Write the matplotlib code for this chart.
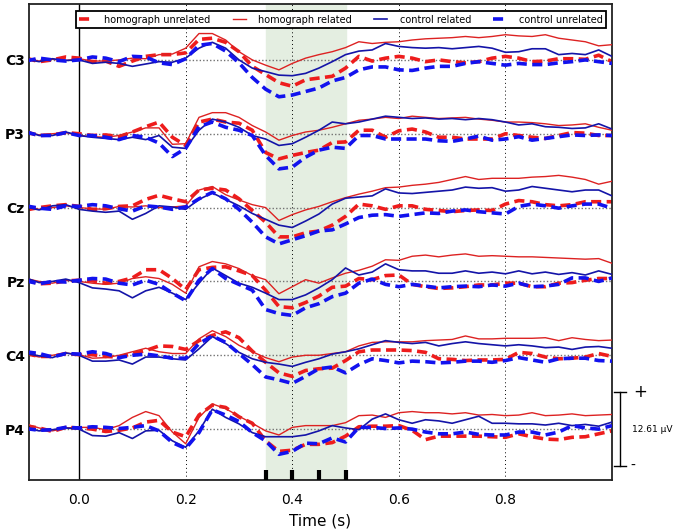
import numpy as np
import matplotlib
matplotlib.use('Agg')
import matplotlib.pyplot as plt
import matplotlib.transforms as mtransforms

# time axis (s), one sample every 25 ms
times = np.round(np.arange(-0.1, 1.0001, 0.025), 3)

channels = ['C3', 'P3', 'Cz', 'Pz', 'C4', 'P4']
conditions = ['homograph unrelated', 'homograph related', 'control related', 'control unrelated']
scale_uv = 12.61

# amplitudes in microvolts
c3_hu = [0.3,-0.3,0.0,0.5,0.3, -0.3,-0.2,-1.1,-0.2,0.6, 0.9,0.9,1.2,3.5,3.7, 3.0,1.4,-1.1,-2.5,-3.9, -4.5,-3.4,-3.1,-2.8,-1.4, 0.6,-0.2,0.3,0.6,0.3, -0.3,0.0,-0.3,-0.5,-0.3, 0.3,0.6,0.3,-0.3,-0.2, 0.2,0.2,0.1,0.8,-0.3]
c3_hr = [0.2,-0.2,0.1,-0.1,0.2, -0.2,-0.2,0.0,0.3,0.2, 0.9,1.0,2.0,4.5,4.5, 3.4,1.4,0.0,-0.9,-1.7, -0.6,0.3,0.9,1.4,2.1, 3.1,2.8,3.0,3.1,3.4, 3.6,3.7,3.8,4.0,3.8, 4.0,4.3,4.1,4.0,4.3, 3.7,3.4,3.1,2.4,2.6]
c3_cr = [0.1,-0.3,0.2,-0.1,0.0, -0.6,-0.4,-0.6,-1.1,-0.7, -0.3,-0.4,0.3,2.0,3.0, 2.0,0.0,-1.4,-2.0,-2.6, -2.7,-2.3,-1.4,-0.3,0.9, 1.5,1.7,2.8,2.3,2.1, 2.0,2.1,1.9,2.1,2.3, 2.0,1.3,1.4,1.9,1.9, 0.9,1.1,0.9,1.7,0.6]
c3_cu = [-0.2,0.3,0.0,-0.2,0.0, 0.5,0.3,-0.3,0.6,0.5, -0.5,-0.8,0.2,2.5,2.8, 1.5,-0.5,-3.0,-5.0,-6.3, -6.0,-5.4,-4.8,-3.6,-3.0, -1.7,-1.2,-1.2,-1.7,-1.8, -1.4,-1.1,-1.1,-0.6,-0.3, -0.6,-0.9,-0.6,-0.8,-0.8, -0.5,-0.3,0.0,-0.3,-0.6]

p3_hu = [0.3,-0.3,-0.2,0.2,0.0, -0.3,-0.2,-0.5,0.3,1.2, 2.0,-0.6,-2.0,2.0,2.5, 2.0,1.8,0.6,-3.2,-4.3, -3.7,-3.2,-2.8,-1.5,-1.4, 0.6,0.6,-0.6,0.5,0.8, 0.3,-0.6,-0.6,-0.9,-0.9, -0.9,0.0,-0.3,-0.6,-0.8, -0.3,0.2,0.1,-0.3,-0.3]
p3_hr = [0.3,-0.2,0.0,0.2,-0.3, -0.5,-0.6,-0.3,0.3,1.0, 1.0,-1.8,-1.7,2.8,3.6, 3.6,2.8,1.4,0.3,-1.1, -0.3,0.3,0.6,1.1,1.7, 2.3,2.5,2.8,2.6,3.0, 2.8,2.6,2.7,2.8,2.5, 2.3,2.0,2.0,1.9,1.7, 1.4,1.5,1.7,1.1,0.6]
p3_cr = [0.5,-0.3,-0.3,0.3,-0.3, -0.6,-0.8,-1.0,-0.6,-1.0, -0.3,-2.3,-2.5,0.6,2.5, 2.0,1.1,-0.3,-0.9,-2.0, -1.7,-0.6,0.6,2.0,1.7, 2.0,2.5,3.0,2.8,2.6, 2.7,2.5,2.6,2.4,2.6, 2.4,2.0,1.5,1.7,1.2, 1.1,0.9,1.0,1.7,0.8]
p3_cu = [0.3,-0.3,-0.3,0.2,-0.3, -0.3,-0.6,-1.0,-0.3,-0.6, -1.6,-3.9,-2.5,1.2,2.0, 1.1,0.6,-0.3,-3.7,-6.0, -5.7,-4.0,-2.8,-2.3,-2.5, -0.3,-0.3,-0.9,-0.9,-0.9, -0.9,-1.2,-1.3,-0.9,-0.4, -1.1,-0.9,-0.5,-1.1,-0.8, -0.5,-0.2,-0.3,-0.2,-0.3]

cz_hu = [-0.4,0.0,0.3,0.5,0.2, -0.3,-0.2,0.2,0.3,1.4, 2.1,1.5,1.0,3.0,3.3, 3.0,1.5,-0.5,-2.5,-5.0, -5.0,-4.3,-4.0,-3.0,-1.5, 0.6,0.3,-0.3,0.3,0.3, -0.3,-0.5,-0.7,-0.5,-0.4, -0.5,0.6,1.2,1.0,0.5, 0.3,0.5,1.0,1.0,1.0]
cz_hr = [0.2,-0.3,0.0,0.3,0.0, -0.2,-0.3,0.2,0.1,0.3, 0.0,0.1,0.3,3.0,3.6, 2.2,1.3,0.5,0.0,-2.2, -1.2,-0.4,0.2,1.0,1.7, 2.3,2.8,3.4,3.5,3.8, 4.0,4.3,4.8,5.3,4.8, 5.0,5.0,5.0,5.2,5.3, 5.5,5.2,4.8,4.0,4.5]
cz_cr = [0.1,-0.4,0.3,0.5,-0.3, -0.6,-0.8,-0.6,-2.0,-1.0, 0.3,0.1,-0.3,1.4,2.5, 1.4,0.3,-1.0,-2.0,-3.0, -3.4,-2.3,-1.1,0.6,1.6, 1.8,2.0,3.2,2.5,2.4, 2.6,2.8,3.0,3.5,3.3, 3.4,2.8,3.0,3.6,3.3, 3.0,2.7,3.0,3.0,2.0]
cz_cu = [0.3,-0.1,-0.3,0.3,0.2, 0.5,0.3,-0.2,-0.6,0.3, 0.1,-0.3,0.1,1.5,2.6, 1.5,-0.3,-2.5,-5.0,-6.2, -5.5,-4.8,-4.0,-3.8,-2.8, -1.7,-1.3,-1.2,-1.5,-1.2, -0.9,-1.0,-0.6,-0.4,-0.7, -0.9,-1.1,0.2,0.6,0.3, -0.1,0.3,0.6,0.6,-0.1]

pz_hu = [0.3,-0.4,-0.3,0.1,0.2, 0.1,-0.3,0.0,0.6,2.0, 2.0,0.5,-1.4,2.0,2.4, 2.5,1.8,1.0,-1.5,-4.3, -4.5,-3.6,-2.5,-1.0,-0.8, 0.5,0.3,1.0,1.1,-0.5, -0.9,-1.2,-1.1,-0.9,-0.6, -0.6,-0.3,-0.3,-0.9,-0.9, -0.3,-0.2,0.2,0.5,0.5]
pz_hr = [0.5,0.0,-0.3,0.2,0.0, -0.3,-0.5,-0.3,0.5,0.8, 0.5,-0.5,-2.0,2.5,3.4, 3.0,2.2,1.0,0.3,-2.1, -0.9,0.3,-0.3,0.6,1.4, 1.9,2.6,3.7,3.6,4.3, 4.5,4.2,4.5,4.7,4.3, 4.4,4.3,4.2,4.2,4.1, 4.0,3.9,3.8,3.9,3.1]
pz_cr = [0.6,-0.2,0.0,0.4,-0.2, -1.1,-1.3,-1.6,-2.8,-1.6, -1.0,-2.0,-3.1,-0.3,2.3, 1.0,-0.3,-1.0,-2.0,-3.1, -3.1,-2.3,-1.1,0.3,2.3, 1.1,1.6,3.0,2.0,1.8, 1.8,1.4,1.4,1.8,1.4, 1.6,1.3,1.8,1.3,1.6, 1.2,1.5,1.1,1.8,1.2]
pz_cu = [0.1,-0.4,0.0,-0.1,0.2, 0.5,0.4,-0.3,-0.6,0.2, -0.5,-2.0,-3.3,0.2,2.2, 0.5,-0.5,-1.5,-4.8,-5.5, -5.8,-4.5,-3.8,-2.6,-2.0, -0.3,0.4,-0.5,-0.9,-0.5, -0.8,-1.1,-0.9,-0.8,-0.9, -0.6,-0.8,-0.3,-0.9,-0.8, -0.5,0.6,0.6,0.0,0.6]

c4_hu = [0.3,-0.2,-0.2,0.3,0.1, 0.1,-0.2,-0.3,0.3,0.8, 1.6,1.5,1.0,2.5,3.4, 4.0,3.0,0.7,-1.2,-3.0, -3.6,-2.6,-2.3,-2.2,-0.9, 0.6,0.9,0.9,0.9,0.8, 0.5,-0.6,-0.7,-0.9,-0.8, -0.8,-0.7,0.5,0.3,-0.3, -0.6,-0.5,-0.3,0.3,-0.2]
c4_hr = [0.2,-0.3,0.0,0.4,0.1, -0.5,-0.4,0.0,0.6,1.2, 0.6,0.3,0.3,2.8,4.2, 3.2,1.7,0.6,-0.4,-1.1, -0.3,0.0,0.0,0.3,0.6, 1.6,2.2,2.3,2.3,2.3, 2.5,2.6,2.7,3.3,2.8, 2.8,2.9,2.9,2.9,3.0, 2.5,3.0,2.7,2.5,2.6]
c4_cr = [0.3,-0.1,-0.4,0.4,0.0, -1.0,-1.0,-0.8,-1.5,-0.3, -0.3,-0.6,-0.8,1.1,3.2, 2.0,0.5,-0.6,-1.2,-1.5, -1.9,-1.2,-0.6,0.2,0.6, 1.1,1.8,2.5,2.2,2.0, 2.2,1.6,2.0,2.3,2.0, 1.8,1.6,1.8,1.6,1.3, 1.4,1.0,1.4,1.5,1.2]
c4_cu = [0.6,0.3,-0.3,0.3,0.2, 0.6,0.3,-0.4,0.0,0.2, -0.1,-0.5,-0.5,2.0,3.3, 2.2,0.3,-1.6,-3.7,-4.2, -4.8,-3.6,-2.3,-2.0,-3.0, -1.6,-0.6,-0.9,-1.3,-1.0, -1.1,-1.3,-1.2,-1.0,-1.0, -1.2,-0.9,-0.4,-0.8,-1.2, -0.6,-0.5,-0.5,-0.9,-1.0]

p4_hu = [0.5,0.2,-0.4,0.3,0.2, 0.0,-0.4,-0.2,0.2,1.2, 1.5,-0.5,-1.3,2.4,4.1, 3.7,2.1,1.0,-2.0,-3.8, -3.6,-2.6,-2.6,-2.3,-1.2, 0.4,0.5,0.5,0.6,-0.2, -1.8,-1.2,-1.2,-1.2,-1.2, -1.3,-1.4,-0.8,-1.3,-1.7, -1.8,-1.4,-1.3,-0.8,-0.3]
p4_hr = [0.9,0.2,-0.3,0.2,0.3, 0.3,-0.1,0.6,2.0,3.0, 2.3,-0.5,-2.5,2.0,4.3, 3.5,2.2,1.0,-0.3,-1.0, 0.3,0.6,0.6,0.6,1.1, 2.3,2.4,2.0,2.8,3.0, 2.8,2.8,2.6,2.8,2.4, 2.5,2.3,2.4,2.8,2.3, 2.4,2.6,2.3,2.4,2.5]
p4_cr = [0.2,-0.3,-0.1,0.2,0.0, -1.1,-1.2,-0.6,-1.6,-0.3, -0.2,-2.0,-3.1,-0.3,3.4, 2.0,0.9,-0.6,-1.3,-1.3, -1.3,-1.0,-0.3,0.6,0.2, -0.1,1.7,2.6,1.6,1.0, 1.6,1.4,1.0,1.6,2.2, 1.0,1.0,0.9,0.9,0.7, 1.0,0.6,0.8,0.5,1.2]
p4_cu = [0.1,-0.2,-0.1,0.3,0.2, 0.4,0.3,0.1,0.3,0.6, -0.3,-2.3,-3.3,-0.6,3.3, 2.4,1.3,-0.6,-2.0,-4.3, -3.8,-2.4,-2.5,-1.5,-2.2, 0.3,0.3,0.1,0.2,0.0, -0.5,-0.8,-0.8,-0.5,-0.9, -1.0,-1.0,-0.5,-0.5,-1.0, -0.5,0.6,0.2,0.0,0.6]

window_ticks = [0.35, 0.4, 0.45, 0.5]
xticks = [0.0, 0.2, 0.4, 0.6, 0.8]

data = {
	'C3': [c3_hu, c3_hr, c3_cr, c3_cu],
	'P3': [p3_hu, p3_hr, p3_cr, p3_cu],
	'Cz': [cz_hu, cz_hr, cz_cr, cz_cu],
	'Pz': [pz_hu, pz_hr, pz_cr, pz_cu],
	'C4': [c4_hu, c4_hr, c4_cr, c4_cu],
	'P4': [p4_hu, p4_hr, p4_cr, p4_cu],
}

# line styles per condition
styles = [
	dict(color='#ee1c1c', lw=2.6, dashes=(2.8, 1.5)),
	dict(color='#dd2222', lw=1.0),
	dict(color='#1414a8', lw=1.2),
	dict(color='#1212ee', lw=2.6, dashes=(2.8, 1.5)),
]

fig = plt.figure(figsize=(6.78, 5.31), dpi=100)
ax = fig.add_axes([29/678, 1-480/531, 583/678, 476/531])

n = len(channels)
offsets = [(n-1-i)*scale_uv for i in range(n)]

ax.axvspan(0.35, 0.5, color='#e4eee1', zorder=0)
for xt in [0.2, 0.4, 0.6, 0.8]:
	ax.axvline(xt, color='black', lw=0.7, ls=(0, (1, 3)), zorder=1)
ax.axvline(0.0, color='black', lw=1.0, zorder=1)

for ch, off in zip(channels, offsets):
	ax.axhline(off, color='0.45', lw=1.0, ls=(0, (1, 1.5)), zorder=1)
	for k, series in enumerate(data[ch]):
		st = styles[k]
		kw = dict(color=st['color'], lw=st['lw'], zorder=2+k)
		if 'dashes' in st:
			kw['dashes'] = st['dashes']
		ax.plot(times, np.array(series)+off, label=conditions[k] if ch == 'C3' else None, **kw)

# analysis window marks at the bottom
trans = mtransforms.blended_transform_factory(ax.transData, ax.transAxes)
for wt in window_ticks:
	ax.plot([wt, wt], [0, 0.022], color='black', lw=3, transform=trans, solid_capstyle='butt', zorder=6)

ax.set_xlim(-0.094, 1.0)
ax.set_ylim(-0.689*scale_uv, (n-1+0.757)*scale_uv)
ax.set_xticks(xticks)
ax.set_xticklabels(['%.1f' % v for v in xticks], fontsize=10)
ax.tick_params(axis='x', length=0, pad=9)
ax.set_yticks(offsets)
ax.set_yticklabels(channels, fontsize=10, fontweight='bold')
ax.tick_params(axis='y', length=0, pad=3)
ax.set_xlabel('Time (s)', fontsize=11, labelpad=5)
for sp in ax.spines.values():
	sp.set_linewidth(1.3)
	sp.set_color('#222222')

leg = ax.legend(loc='upper right', bbox_to_anchor=(0.9897, 0.985), ncol=4, fontsize=7,
	handlelength=1.3, columnspacing=2.3, handletextpad=1.3, borderpad=0.35,
	fancybox=False, framealpha=1, borderaxespad=0)
leg.get_frame().set_edgecolor('black')
leg.get_frame().set_linewidth(1.3)

# scale bar for one channel spacing
trans2 = mtransforms.blended_transform_factory(ax.transAxes, ax.transData)
xb = 1.0137
lo, hi = offsets[-1]-scale_uv/2, offsets[-1]+scale_uv/2
ax.plot([xb, xb], [lo, hi], color='black', lw=1, transform=trans2, clip_on=False)
for yy in (lo, hi):
	ax.plot([xb-0.01, xb+0.01], [yy, yy], color='black', lw=1, transform=trans2, clip_on=False)
ax.text(xb+0.022, hi, '+', fontsize=12, ha='left', va='center', transform=trans2)
ax.text(xb+0.017, lo, '-', fontsize=10, ha='left', va='center', transform=trans2)
ax.text(xb+0.02, offsets[-1], '12.61 µV', fontsize=6.5, ha='left', va='center', transform=trans2)

fig.savefig('out.png', dpi=100)
